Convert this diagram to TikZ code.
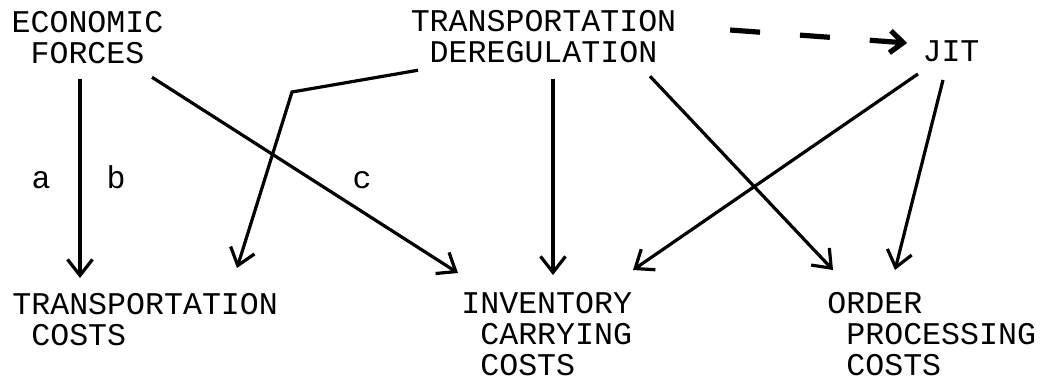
\documentclass[tikz,border=0pt]{standalone}
\usepackage{fontspec}
\setmonofont{Liberation Mono}
\usetikzlibrary{arrows.meta,calc}
\newcommand\ind{\hspace*{0.6em}}
\begin{document}
\begin{tikzpicture}[x=.5pt,y=-.5pt,
	lbl/.style={font=\ttfamily\fontsize{15.8}{15.5}\selectfont,inner sep=0pt},
	arr/.style={line width=1.6pt,-{Straight Barb[length=8pt,width=12.5pt]}},
	dasharr/.style={line width=2.6pt,dash pattern=on 15pt off 20pt,-{Straight Barb[length=6.5pt,width=11pt]}}]
	\useasboundingbox (0,0) rectangle (1048,380);
	
	\node[lbl,align=center,anchor=north] (ef) at (87.5,11) {ECONOMIC\\FORCES};
	\node[lbl,align=center,anchor=north] (td) at (543.5,10) {TRANSPORTATION\\DEREGULATION};
	\node[lbl] (jit) at (951,51) {JIT};
	
	\node[lbl,align=left,anchor=north west] (tc) at (12,293) {TRANSPORTATION\\\ind COSTS};
	\node[lbl,align=left,anchor=north west] (ic) at (461,292) {INVENTORY\\\ind CARRYING\\\ind COSTS};
	\node[lbl,align=left,anchor=north west] (opc) at (827,292) {ORDER\\\ind PROCESSING\\\ind COSTS};
	
	\node[lbl,anchor=base] (a) at (41,188) {a};
	\node[lbl,anchor=base] (b) at (116,188) {b};
	\node[lbl,anchor=base] (c) at (362,188) {c};
	
	\coordinate (bend) at (292,92);
	
	\draw[arr] ($(ef.south)+(-7.5,15)$) -- ($(tc.north west)+(68,-15)$);
	\draw[arr] ($(ef.south)+(64.5,13)$) -- ($(ic.north west)+(-3,-19)$);
	\draw[arr] ($(td.south)+(-125.5,7)$) -- (bend) -- ($(tc.north west)+(225,-25)$);
	\draw[arr] ($(td.south)+(9.5,16)$) -- ($(ic.north west)+(92,-17)$);
	\draw[arr] ($(td.south)+(106.5,13)$) -- ($(opc.north west)+(6,-22)$);
	\draw[arr] ($(jit.south)+(-33,12)$) -- ($(ic.north west)+(172,-22)$);
	\draw[arr] ($(jit.south)+(-8,18)$) -- ($(opc.north west)+(68,-22)$);
	\draw[dasharr] ($(td.north east)+(53.5,20)$) -- ($(jit.west)+(-15,-8)$);
\end{tikzpicture}
\end{document}
